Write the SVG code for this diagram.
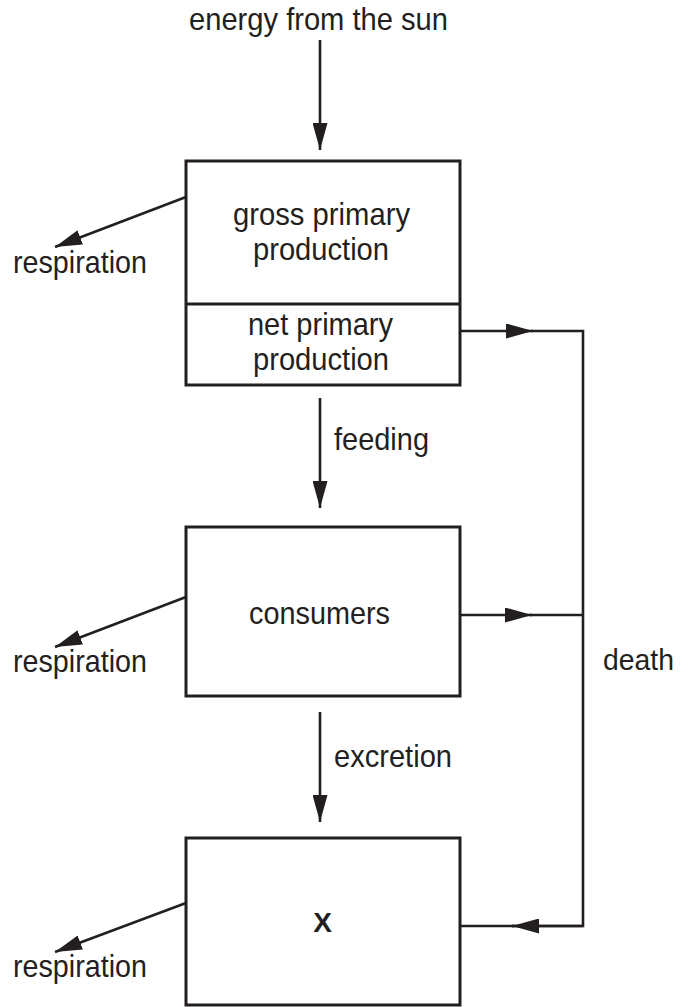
<svg xmlns="http://www.w3.org/2000/svg" width="681" height="1007" viewBox="0 0 681 1007">
<style>
.t{font-family:"Liberation Sans",Arial,sans-serif;font-size:32px;fill:#231f20}
.c{text-anchor:middle}
.b{font-weight:bold;font-size:28px}
.box{fill:none;stroke:#231f20;stroke-width:3}
.ln{fill:none;stroke:#231f20;stroke-width:2.6}
</style>
<defs>
<marker id="ah" markerUnits="userSpaceOnUse" markerWidth="28" markerHeight="15" refX="27" refY="7.5" orient="auto">
<path d="M0,0 L27,7.5 L0,15 z" fill="#231f20"/>
</marker>
</defs>
<g id="sun-label"><text class="t c" x="318.5" y="30" textLength="259" lengthAdjust="spacingAndGlyphs">energy from the sun</text></g>
<g id="production">
<rect class="box" x="186" y="161" width="274" height="224"/>
<line class="box" x1="186" y1="304" x2="460" y2="304"/>
<text class="t c" x="321.5" y="225" textLength="177" lengthAdjust="spacingAndGlyphs">gross primary</text>
<text class="t c" x="321" y="260" textLength="136" lengthAdjust="spacingAndGlyphs">production</text>
<text class="t c" x="320.5" y="335" textLength="145" lengthAdjust="spacingAndGlyphs">net primary</text>
<text class="t c" x="321" y="370" textLength="136" lengthAdjust="spacingAndGlyphs">production</text>
</g>
<g id="consumers">
<rect class="box" x="186" y="527" width="274" height="169"/>
<text class="t c" x="319.5" y="624" textLength="141" lengthAdjust="spacingAndGlyphs">consumers</text>
</g>
<g id="x">
<rect class="box" x="186" y="838" width="274" height="167"/>
<text class="t c b" x="322.5" y="932">X</text>
</g>
<g id="labels">
<text class="t" x="13" y="273" textLength="134" lengthAdjust="spacingAndGlyphs">respiration</text>
<text class="t" x="13" y="672" textLength="134" lengthAdjust="spacingAndGlyphs">respiration</text>
<text class="t" x="13" y="977" textLength="134" lengthAdjust="spacingAndGlyphs">respiration</text>
<text class="t" x="334" y="450" textLength="95" lengthAdjust="spacingAndGlyphs">feeding</text>
<text class="t" x="334" y="767" textLength="118" lengthAdjust="spacingAndGlyphs">excretion</text>
<text class="t" x="603" y="670" style="font-size:30px" textLength="71" lengthAdjust="spacingAndGlyphs">death</text>
</g>
<g id="connectors">
<line class="ln" x1="320" y1="40" x2="320" y2="150" marker-end="url(#ah)"/>
<line class="ln" x1="320" y1="398" x2="320" y2="508" marker-end="url(#ah)"/>
<line class="ln" x1="320" y1="712" x2="320" y2="822" marker-end="url(#ah)"/>
<line class="ln" x1="186" y1="197" x2="55" y2="247" marker-end="url(#ah)"/>
<line class="ln" x1="186" y1="597" x2="55" y2="647" marker-end="url(#ah)"/>
<line class="ln" x1="186" y1="903" x2="55" y2="952" marker-end="url(#ah)"/>
<line class="ln" x1="460" y1="331" x2="533" y2="331" marker-end="url(#ah)"/>
<line class="ln" x1="460" y1="615" x2="532" y2="615" marker-end="url(#ah)"/>
<path class="ln" d="M531,331 H583 V926 H512"/>
<line class="ln" x1="530" y1="615" x2="583" y2="615"/>
<line class="ln" x1="583" y1="926" x2="512" y2="926" marker-end="url(#ah)"/>
<line class="ln" x1="514" y1="926" x2="460" y2="926"/>
</g>
</svg>
